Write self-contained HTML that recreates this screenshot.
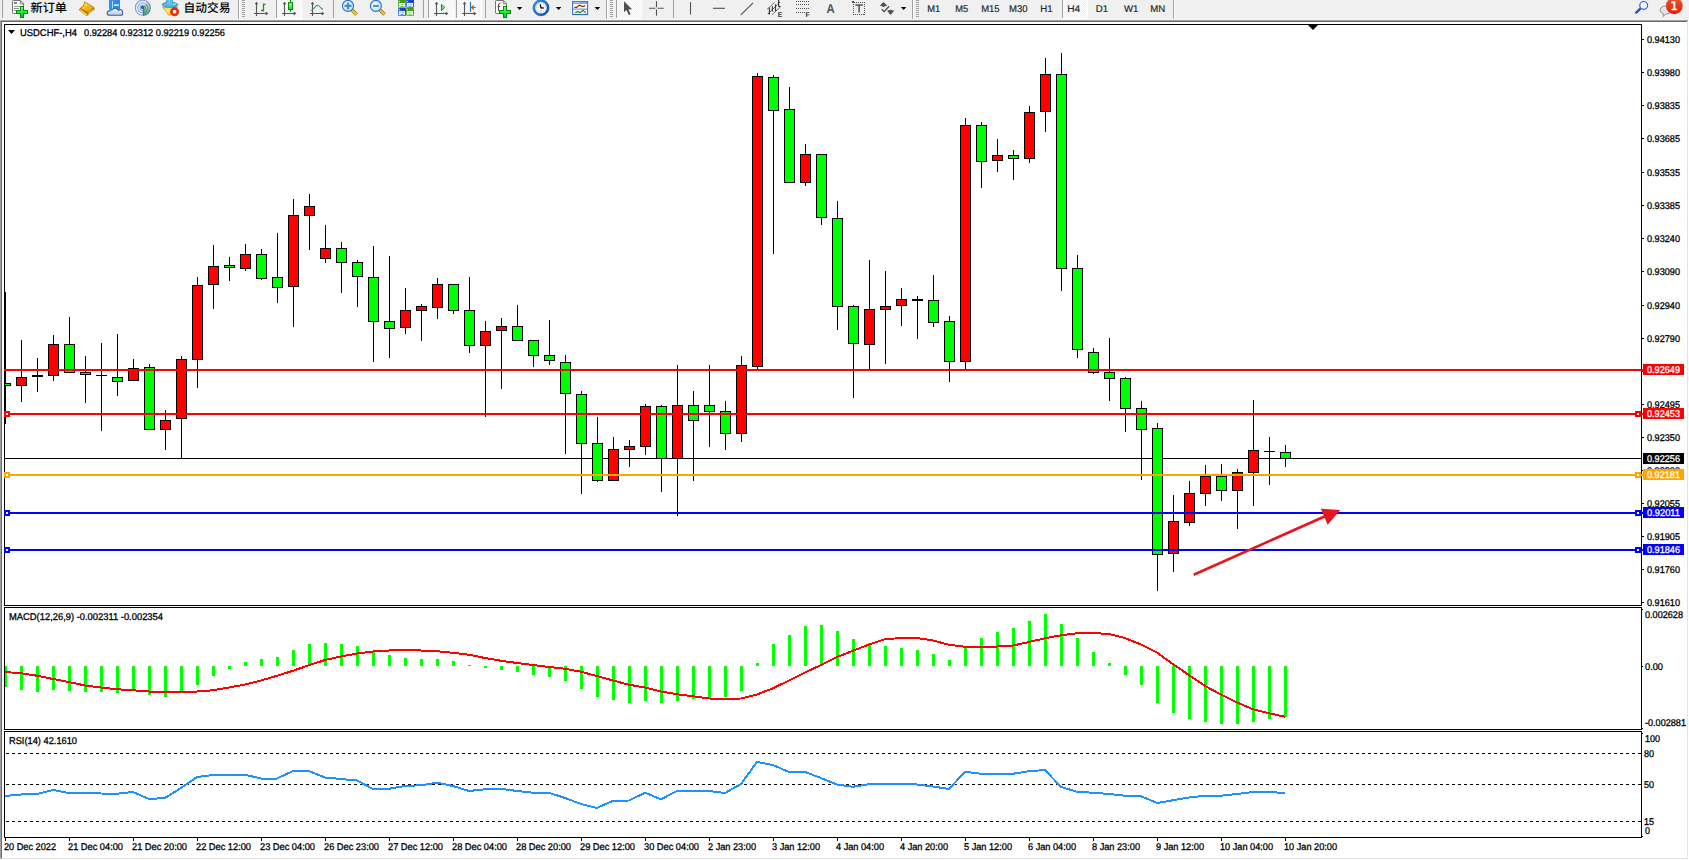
<!DOCTYPE html>
<html lang="zh-CN"><head><meta charset="utf-8"><title>USDCHF-,H4</title>
<style>
html,body{margin:0;padding:0;background:#f0f0f0;}
body{width:1689px;height:860px;position:relative;overflow:hidden;font-family:"Liberation Sans","Noto Sans CJK SC",sans-serif;}
svg{display:block}
</style></head><body>
<svg id="toolbar" width="1689" height="20" viewBox="0 0 1689 20" style="position:absolute;left:0;top:0;z-index:2;text-rendering:geometricPrecision" font-family="Liberation Sans, Noto Sans CJK SC, sans-serif">
<defs>
<linearGradient id="gPlus" x1="0" y1="0" x2="0" y2="1"><stop offset="0" stop-color="#6cff7c"/><stop offset="0.5" stop-color="#10f830"/><stop offset="1" stop-color="#08c418"/></linearGradient>
<linearGradient id="gGold" x1="0" y1="0" x2="0.6" y2="1"><stop offset="0" stop-color="#fff07a"/><stop offset="0.5" stop-color="#f0c020"/><stop offset="1" stop-color="#e0a010"/></linearGradient>
<linearGradient id="gCloud" x1="0" y1="0" x2="0" y2="1"><stop offset="0" stop-color="#ffffff"/><stop offset="1" stop-color="#b4c2dc"/></linearGradient>
<linearGradient id="gFace" x1="0" y1="0" x2="0" y2="1"><stop offset="0" stop-color="#f6d040"/><stop offset="0.5" stop-color="#fff27c"/><stop offset="1" stop-color="#f0bc20"/></linearGradient>
<linearGradient id="gSweep" gradientUnits="userSpaceOnUse" x1="146" y1="15" x2="148" y2="2"><stop offset="0" stop-color="#2c9a34" stop-opacity="0.85"/><stop offset="1" stop-color="#7ab880" stop-opacity="0.3"/></linearGradient>
<linearGradient id="gBlue" x1="0" y1="0" x2="0" y2="1"><stop offset="0" stop-color="#4aa8ff"/><stop offset="1" stop-color="#1050c8"/></linearGradient>
<linearGradient id="gGreen" x1="0" y1="0" x2="0" y2="1"><stop offset="0" stop-color="#3a9a12"/><stop offset="1" stop-color="#48aa1e"/></linearGradient>
<linearGradient id="gCandle" x1="0" y1="0" x2="0" y2="1"><stop offset="0" stop-color="#90ff98"/><stop offset="1" stop-color="#18d830"/></linearGradient>
<linearGradient id="gBadge" x1="0" y1="0" x2="0" y2="1"><stop offset="0" stop-color="#ea5a38"/><stop offset="1" stop-color="#dc1c00"/></linearGradient>
<linearGradient id="gSig" gradientUnits="userSpaceOnUse" x1="136" y1="1" x2="150" y2="15"><stop offset="0" stop-color="#2f62d8"/><stop offset="0.55" stop-color="#4a84d0"/><stop offset="1" stop-color="#3aa848"/></linearGradient>
<linearGradient id="gBlue2" x1="1" y1="0" x2="0" y2="1"><stop offset="0" stop-color="#0c36b4"/><stop offset="1" stop-color="#3470e0"/></linearGradient>
<linearGradient id="gRing" x1="0" y1="0" x2="1" y2="1"><stop offset="0" stop-color="#3a9cf4"/><stop offset="1" stop-color="#0c48a8"/></linearGradient>
<radialGradient id="gLens" cx="0.4" cy="0.35" r="0.7"><stop offset="0" stop-color="#f4fbff"/><stop offset="1" stop-color="#b8dcf4"/></radialGradient>
<g id="axes" fill="none" stroke="#555" stroke-width="1.1">
 <path d="M0.5 2.8 V16 M-2 13.5 H11"/>
 <path d="M-0.7 4.3 L0.5 2.6 L1.7 4.3 M9.7 12.3 L11.4 13.5 L9.7 14.7" stroke-width="1.1"/>
</g>
<pattern id="chk" width="2" height="2" patternUnits="userSpaceOnUse"><rect width="2" height="2" fill="#f0f0f0"/><rect width="1" height="1" fill="#fff"/><rect x="1" y="1" width="1" height="1" fill="#fff"/></pattern>
<path id="dd" d="M0 7 H5.6 L2.8 10 Z" fill="#000"/>
<g id="grip" fill="#a0a0a0"><rect x="0" y="0" width="3" height="1"/><rect x="0" y="2" width="3" height="1"/><rect x="0" y="4" width="3" height="1"/><rect x="0" y="6" width="3" height="1"/><rect x="0" y="8" width="3" height="1"/><rect x="0" y="10" width="3" height="1"/><rect x="0" y="12" width="3" height="1"/><rect x="0" y="14" width="3" height="1"/><rect x="0" y="16" width="3" height="1"/></g>
</defs>
<rect x="0" y="0" width="1689" height="20" fill="#f0f0f0"/>
<rect x="0" y="19" width="1689" height="1" fill="#f6f6f6"/>
<g shape-rendering="crispEdges">
<rect x="2" y="0" width="1" height="18" fill="#a0a0a0"/>
<!-- band separators -->
<rect x="238" y="0" width="1" height="19" fill="#a0a0a0"/><rect x="239" y="0" width="1" height="19" fill="#fff"/>
<rect x="606" y="0" width="1" height="19" fill="#a0a0a0"/><rect x="607" y="0" width="1" height="19" fill="#fff"/>
<rect x="912" y="0" width="1" height="19" fill="#a0a0a0"/><rect x="913" y="0" width="1" height="19" fill="#fff"/>
<rect x="1173" y="0" width="1" height="19" fill="#a0a0a0"/><rect x="1174" y="0" width="1" height="19" fill="#fff"/>
<use href="#grip" x="242" y="0"/><use href="#grip" x="610" y="0"/><use href="#grip" x="916" y="0"/>
<!-- small separators -->
<rect x="333" y="0" width="1" height="18" fill="#a0a0a0"/>
<rect x="423" y="0" width="1" height="18" fill="#a0a0a0"/>
<rect x="485" y="0" width="1" height="18" fill="#a0a0a0"/>
<rect x="673" y="0" width="1" height="18" fill="#a0a0a0"/>
<!-- pressed buttons -->
<g id="pb1"><rect x="276" y="0" width="1" height="18" fill="#a0a0a0"/><rect x="277" y="0" width="24" height="18" fill="url(#chk)"/><rect x="301" y="0" width="1" height="19" fill="#fff"/><rect x="276" y="18" width="26" height="1" fill="#fff"/></g>
<g><rect x="428" y="0" width="1" height="18" fill="#a0a0a0"/><rect x="429" y="0" width="24" height="18" fill="url(#chk)"/><rect x="453" y="0" width="1" height="19" fill="#fff"/><rect x="428" y="18" width="26" height="1" fill="#fff"/></g>
<g><rect x="456" y="0" width="1" height="18" fill="#a0a0a0"/><rect x="457" y="0" width="24" height="18" fill="url(#chk)"/><rect x="481" y="0" width="1" height="19" fill="#fff"/><rect x="456" y="18" width="26" height="1" fill="#fff"/></g>
<g><rect x="616" y="0" width="1" height="18" fill="#a0a0a0"/><rect x="617" y="0" width="24" height="18" fill="url(#chk)"/><rect x="641" y="0" width="1" height="19" fill="#fff"/><rect x="616" y="18" width="26" height="1" fill="#fff"/></g>
<g><rect x="1062" y="0" width="1" height="18" fill="#a0a0a0"/><rect x="1063" y="0" width="24" height="18" fill="url(#chk)"/><rect x="1087" y="0" width="1" height="19" fill="#fff"/><rect x="1062" y="18" width="26" height="1" fill="#fff"/></g>
</g>
<!-- new order -->
<g>
<path d="M13.2 0.5 H20.3 L23.5 3.8 V12.8 Q23.5 13.5 22.8 13.5 H13.2 Q12.5 13.5 12.5 12.8 V1.2 Q12.5 0.5 13.2 0.5 Z" fill="#fff" stroke="#767676" stroke-width="1"/>
<path d="M20.3 0.5 V3.8 H23.5 Z" fill="#fff" stroke="#707070" stroke-width="0.9"/>
<rect x="14" y="2.1" width="3" height="1.7" fill="#707070"/>
<path d="M14 6.4 H20 M14 8.5 H19 M14 10.5 H16" stroke="#808080" stroke-width="0.9"/>
<path id="plus" d="M20 6 H24 V10 H28 V14 H24 V18 H20 V14 H16 V10 H20 Z" fill="#078a07"/>
<path id="plusi" d="M21 7 H23 V11 H27 V13 H23 V17 H21 V13 H17 V11 H21 Z" fill="url(#gPlus)"/>
</g>
<text x="30.5" y="11.6" font-size="12" font-weight="500" fill="#000" textLength="36.5" lengthAdjust="spacingAndGlyphs">新订单</text>
<!-- book -->
<g>
<path d="M84.5 1.2 L93.9 7 L95 9.5 L87.6 15.5 Q86.8 16 85.9 15.4 L79.2 10.2 Q78.7 9.6 79.3 8.9 L83.3 5.1 Z" fill="#b47410"/>
<path d="M84.9 2.3 L93.2 7.3 L89.2 12.6 L80.9 8.6 L83.8 5.4 Z" fill="url(#gGold)"/>
<path d="M80 9.9 L87 14.9" stroke="#f2cc58" stroke-width="1.3" fill="none"/>
<path d="M88.6 14 L94.3 9.4" stroke="#e6dca4" stroke-width="1.1" fill="none"/>
</g>
<!-- server/cloud -->
<g>
<path d="M109 -1 H120 V9.4 H109 Z" fill="#1c8ef8"/>
<path d="M109 -1 H112.4 V9.4 H109 Z" fill="#0aa0ff"/>
<path d="M109 -1 H120 V0.8 H109 Z" fill="#6a7ad0"/>
<path d="M112.6 1 V9" stroke="#e8f6ff" stroke-width="0.8"/>
<rect x="114" y="4.4" width="4.8" height="1.5" fill="#f0f8ff"/>
<path d="M109.4 15.3 Q107.2 15.3 107.2 13.2 Q107.2 11 109.6 10.9 Q110.4 9.4 112 10 Q113 8.2 115.4 8.4 Q117.6 8.6 118.4 10.4 Q119.6 9.2 121.2 9.8 Q123 10.8 122.6 12.6 Q123.2 15.3 120.6 15.3 Z" fill="url(#gCloud)" stroke="#3f5fa0" stroke-width="1.1"/>
</g>
<!-- signal -->
<g fill="none">
<path d="M143 7.8 L143 15.6 A7.8 7.8 0 0 0 147.6 1.5 Z" fill="url(#gSweep)"/>
<circle cx="142.8" cy="7.8" r="7.5" stroke="#3a68d4" stroke-width="1.1" opacity="0.6"/>
<circle cx="142.8" cy="7.8" r="5" stroke="#3a68d4" stroke-width="1.1" opacity="0.55"/>
<circle cx="142.8" cy="7.8" r="2.7" stroke="#3a68d4" stroke-width="1.1" opacity="0.5"/>
<circle cx="142.6" cy="7.4" r="1.7" fill="#2254d0"/>
<path d="M143.4 7.9 V15.7" stroke="#1ea02c" stroke-width="1.3"/>
</g>
<!-- expert -->
<g>
<path d="M162.6 7.4 L169 15.4 Q169.8 16 170.6 15.2 L177.6 6.9 Z" fill="url(#gFace)" stroke="#d09c14" stroke-width="0.8"/>
<path d="M166.2 3.2 Q166.6 -2 169.4 -2 Q172.4 -2 172.8 3.2 Z" fill="#5cb6ea" stroke="#1c84b4" stroke-width="0.8"/>
<ellipse cx="170" cy="4.7" rx="7.8" ry="2.5" fill="#5cb6ea" stroke="#1c84b4" stroke-width="0.8"/>
<path d="M166.6 3.6 Q169.6 5 172.6 3.4 Q172 -1 169.4 -1 Q167 -1 166.6 3.6 Z" fill="#6cc0f0"/>
<path d="M173 4.6 Q175 4.2 176.2 3.4" fill="none" stroke="#b0e0ff" stroke-width="0.9"/>
<circle cx="174.6" cy="11.7" r="4.15" fill="#e82c10" stroke="#c01c00" stroke-width="0.6"/>
<rect x="173" y="10" width="3.2" height="3.3" fill="#fff"/>
</g>
<text x="183.5" y="11.6" font-size="12" font-weight="500" fill="#000" textLength="47" lengthAdjust="spacingAndGlyphs">自动交易</text>
<!-- bar chart -->
<use href="#axes" x="256" y="0"/>
<path d="M263.5 3.4 V11.6 M263.5 4.3 H265.6 M261 10.5 H263.5" fill="none" stroke="#1c9a1c" stroke-width="1.3"/>
<!-- candle chart -->
<use href="#axes" x="284" y="0"/>
<path d="M290.5 0 V11.8" stroke="#0a8a0a" stroke-width="1.1"/>
<rect x="288.5" y="2.6" width="4" height="6.9" fill="url(#gCandle)" stroke="#0a8a0a" stroke-width="1"/>
<!-- line chart -->
<use href="#axes" x="312" y="0"/>
<path d="M311 10.6 Q313.6 9.4 315 7 Q316.6 4.6 318 5.4 Q319.6 6.4 321 8 Q322 9 323 9.2" fill="none" stroke="#3a9a3a" stroke-width="1.1"/>
<!-- zoom in -->
<g>
<path d="M351.8 9.8 L356.6 14.5" stroke="#a87410" stroke-width="3.4" stroke-linecap="butt"/>
<path d="M352 10 L356.4 14.3" stroke="#f4d83c" stroke-width="1.7" stroke-linecap="butt"/>
<circle cx="348" cy="5.9" r="5.5" fill="url(#gLens)" stroke="#2c74c4" stroke-width="1.1"/>
<path d="M344.5 5.9 H351.5 M348 2.6 V9.2" stroke="#4a8eb8" stroke-width="2.2"/>
</g>
<!-- zoom out -->
<g>
<path d="M379.7 9.8 L384.5 14.5" stroke="#a87410" stroke-width="3.4" stroke-linecap="butt"/>
<path d="M379.9 10 L384.3 14.3" stroke="#f4d83c" stroke-width="1.7" stroke-linecap="butt"/>
<circle cx="375.9" cy="5.9" r="5.5" fill="url(#gLens)" stroke="#2c74c4" stroke-width="1.1"/>
<path d="M373 5.9 H378.9" stroke="#4a8eb8" stroke-width="1.9"/>
</g>
<!-- tile windows -->
<g>
<rect x="398.2" y="-1" width="7.7" height="8.7" rx="0.6" fill="url(#gGreen)"/>
<rect x="406.2" y="-1" width="7.7" height="8.7" rx="0.6" fill="url(#gBlue2)"/>
<rect x="398.2" y="8.1" width="7.7" height="7.7" rx="0.6" fill="url(#gBlue2)"/>
<rect x="406.2" y="8.1" width="7.7" height="7.7" rx="0.6" fill="url(#gGreen)"/>
<g fill="#fff">
<rect x="399.1" y="3" width="5.8" height="3.9"/><rect x="407.1" y="3" width="5.8" height="3.9"/>
<rect x="399.1" y="11.1" width="5.8" height="3.9"/><rect x="407.1" y="11.1" width="5.8" height="3.9"/>
<rect x="399.1" y="1.1" width="0.9" height="0.9"/><rect x="407.1" y="1.1" width="0.9" height="0.9"/>
<rect x="399.1" y="9.2" width="0.9" height="0.9"/><rect x="407.1" y="9.2" width="0.9" height="0.9"/>
</g>
<path d="M400.2 4.6 H403.8 M408.2 12.7 H411.8" stroke="#8cd070" stroke-width="0.9"/>
<path d="M408.2 4.6 H409.2 M410 4.6 H411.8 M400.2 12.7 H401.2 M402 12.7 H403.8" stroke="#6a98ec" stroke-width="0.9"/>
<rect x="400.5" y="6.2" width="3" height="0.7" fill="#46a61c"/><rect x="408.5" y="14.3" width="3" height="0.7" fill="#46a61c"/>
<rect x="408.5" y="6.2" width="3" height="0.7" fill="#2c5cd4"/><rect x="400.5" y="14.3" width="3" height="0.7" fill="#2c5cd4"/>
</g>
<!-- chart shift -->
<use href="#axes" x="436" y="0"/>
<path d="M441.4 4.4 L444.8 7.5 L441.4 10.6 Z" fill="#6cf07c" stroke="#0c920c" stroke-width="1"/>
<!-- autoscroll -->
<use href="#axes" x="464" y="0"/>
<path d="M470.5 2 V12" stroke="#1a78b0" stroke-width="1.2"/>
<path d="M471.4 7.5 H475.8 M473.8 5.4 L471.6 7.5 L473.8 9.6" fill="none" stroke="#e04808" stroke-width="1.2"/>
<!-- indicators -->
<g>
<path d="M496.2 0.5 H503.3 L506.5 3.8 V12.8 Q506.5 13.5 505.8 13.5 H496.2 Q495.5 13.5 495.5 12.8 V1.2 Q495.5 0.5 496.2 0.5 Z" fill="#fff" stroke="#767676" stroke-width="1"/>
<path d="M503.3 0.5 V3.8 H506.5 Z" fill="#fff" stroke="#707070" stroke-width="0.9"/>
<path d="M500.6 3.2 Q498.6 3 498.5 5 V10.9 M497.6 6.4 H500.4" fill="none" stroke="#4a4630" stroke-width="1"/>
<use href="#plus" x="483"/><use href="#plusi" x="483"/>
</g>
<use href="#dd" x="516.8" y="0"/>
<!-- clock -->
<g>
<circle cx="541" cy="7.8" r="7" fill="#f6f6f6" stroke="url(#gRing)" stroke-width="2.4"/>
<circle cx="541" cy="7.8" r="8.1" fill="none" stroke="#0c4aa0" stroke-width="0.4"/>
<g fill="#8a8a8a"><circle cx="545.70" cy="7.80" r="0.45"/><circle cx="545.07" cy="10.15" r="0.45"/><circle cx="543.35" cy="11.87" r="0.45"/><circle cx="541.00" cy="12.50" r="0.45"/><circle cx="538.65" cy="11.87" r="0.45"/><circle cx="536.93" cy="10.15" r="0.45"/><circle cx="536.30" cy="7.80" r="0.45"/><circle cx="536.93" cy="5.45" r="0.45"/><circle cx="538.65" cy="3.73" r="0.45"/><circle cx="541.00" cy="3.10" r="0.45"/><circle cx="543.35" cy="3.73" r="0.45"/><circle cx="545.07" cy="5.45" r="0.45"/></g>
<path d="M540.2 4.3 L541 7.9 L543.8 8" fill="none" stroke="#111" stroke-width="1.3"/>
<path d="M540.4 10.8 H541.8" stroke="#4a90f0" stroke-width="0.8"/>
</g>
<use href="#dd" x="555.8" y="0"/>
<!-- template -->
<g>
<rect x="572.6" y="1.6" width="15" height="13" fill="#fff" stroke="#3c78c4" stroke-width="1.1"/>
<rect x="573.1" y="2.1" width="14" height="1.8" fill="#6aa4e6"/>
<path d="M573.4 2.6 H580" stroke="#c0dcfa" stroke-width="0.6"/>
<path d="M573 9.1 H587.2" stroke="#3c78c4" stroke-width="0.9"/>
<path d="M573 14.3 H587.2" stroke="#2c64b4" stroke-width="0.8"/>
<path d="M574.3 7.3 H576.7 L577.9 6.2 L579.5 5.2 L581.7 6.4 H583.6 L585.2 5.5" fill="none" stroke="#a42408" stroke-width="1.2"/>
<path d="M575.3 12.6 L577.9 11.4 L580 12.6 L583.1 10.2 L585.7 12.6" fill="none" stroke="#168a1c" stroke-width="1.2"/>
</g>
<use href="#dd" x="594.6" y="0"/>
<!-- cursor -->
<path d="M624 1.2 V12.2 L626.4 10 L628.8 15 L630.6 14.2 L628.4 9.4 L632 9.2 Z" fill="#505050"/>
<!-- crosshair -->
<path d="M656.5 1.2 V7.2 M656.5 9.4 V15.8 M649 8.3 H655.4 M657.6 8.3 H663.8" stroke="#505050" stroke-width="1.1"/>
<!-- vline, hline, trend -->
<path d="M690.5 2.2 V14.6" stroke="#505050" stroke-width="1.1"/>
<path d="M713 8.3 H725" stroke="#505050" stroke-width="1.1"/>
<path d="M740.8 14.8 L753 2.9" stroke="#505050" stroke-width="1.1"/>
<!-- channel -->
<g fill="none" stroke="#555">
<path d="M767 9.5 L774.7 2.2 M772 14.7 L781 6.3" stroke-width="0.8"/>
<path d="M769.4 7.4 V14.6 M772.4 6.3 V11.6 M775.5 4.2 V11.4 M778.6 -1 V6.7" stroke="#3c3c3c" stroke-width="1.2"/>
<path d="M767.8 13.5 H769.4 M769.4 11.4 H770.8 M771.2 10.2 H772.4 M772.4 8.5 H773.8 M774.2 7.4 H775.5 M775.5 5.5 H776.8 M775.5 10.5 H776.6 M777.4 4.3 H778.6 M778.6 2.3 H780 M778.6 6.5 H780.4" stroke="#3c3c3c" stroke-width="1"/>
</g>
<text x="777.7" y="16.9" font-size="6.8" font-weight="bold" fill="#383838">E</text>
<!-- fibo -->
<g stroke="#505050" stroke-width="1" stroke-dasharray="1 1" shape-rendering="crispEdges">
<path d="M796 1.5 H809 M796 4.5 H809 M796 8.5 H809 M796 12.5 H805"/>
</g>
<text x="805.6" y="16.9" font-size="6.8" font-weight="bold" fill="#383838">F</text>
<!-- A -->
<text x="826.5" y="13" font-size="12.8" font-weight="bold" fill="#555" textLength="8.2" lengthAdjust="spacingAndGlyphs">A</text>
<!-- text label -->
<g>
<rect x="853.5" y="2.5" width="11" height="12" fill="none" stroke="#505050" stroke-width="1" stroke-dasharray="1 1" shape-rendering="crispEdges"/>
<rect x="852" y="1" width="2" height="2" fill="#505050"/>
<path d="M855.4 5 H862.8 M859.1 5 V12.6" stroke="#505050" stroke-width="1.5"/>
</g>
<!-- arrows -->
<g fill="#505050">
<path d="M883.4 2 L887.1 5.5 L883.4 7 L880 5.5 Z"/>
<path d="M890.5 15.1 L887.1 10.8 L890.5 9.7 L894.2 10.8 Z"/>
<path d="M881.8 9.4 L884.3 11.6 L889 6.2" fill="none" stroke="#505050" stroke-width="1.4"/>
</g>
<use href="#dd" x="900.8" y="0"/>
<!-- timeframes -->
<g font-size="9.8" fill="#2a2a2a" stroke="#2a2a2a" stroke-width="0.2">
<text x="927.2" y="12" textLength="13" lengthAdjust="spacingAndGlyphs">M1</text>
<text x="955.2" y="12" textLength="13" lengthAdjust="spacingAndGlyphs">M5</text>
<text x="981.2" y="12" textLength="18.4" lengthAdjust="spacingAndGlyphs">M15</text>
<text x="1009" y="12" textLength="18.6" lengthAdjust="spacingAndGlyphs">M30</text>
<text x="1040.2" y="12" textLength="12.4" lengthAdjust="spacingAndGlyphs">H1</text>
<text x="1067.2" y="12" textLength="13" lengthAdjust="spacingAndGlyphs">H4</text>
<text x="1095.8" y="12" textLength="12.4" lengthAdjust="spacingAndGlyphs">D1</text>
<text x="1124" y="12" textLength="14.4" lengthAdjust="spacingAndGlyphs">W1</text>
<text x="1150.2" y="12" textLength="15" lengthAdjust="spacingAndGlyphs">MN</text>
</g>
<!-- search -->
<g>
<path d="M1640.4 8.6 L1636.2 12.6" stroke="#1a54cc" stroke-width="2.4" stroke-linecap="round"/>
<circle cx="1643.7" cy="5.4" r="3.9" fill="#f2f2fc" stroke="#2460d8" stroke-width="1.2"/>
</g>
<!-- chat -->
<g>
<path d="M1663 16.6 L1663.4 13.8 Q1659.6 12.6 1660.2 9.6 Q1661 6 1666 6 Q1671.4 6.2 1671.6 10 Q1671.4 13.6 1666 14 Z" fill="#e2e2ee" stroke="#8a8a90" stroke-width="0.9"/>
<circle cx="1674.3" cy="5.8" r="8.4" fill="url(#gBadge)"/>
<text x="1674.1" y="9.9" font-size="11.5" font-family="DejaVu Sans, sans-serif" fill="#fff" stroke="#fff" stroke-width="0.5" text-anchor="middle">1</text>
</g>
</svg>

<svg id="chart" width="1689" height="860" viewBox="0 0 1689 860" shape-rendering="crispEdges" font-family="Liberation Sans, sans-serif" style="position:absolute;left:0;top:0;text-rendering:geometricPrecision">
<rect x="0" y="20" width="1689" height="840" fill="#fff"/>
<rect x="0" y="20" width="1688" height="1" fill="#a0a0a0"/>
<rect x="0" y="20" width="1" height="839" fill="#a0a0a0"/>
<rect x="1" y="21" width="1686" height="1" fill="#696969"/>
<rect x="1" y="21" width="1" height="837" fill="#696969"/>
<rect x="1687" y="21" width="1" height="838" fill="#e3e3e3"/>
<rect x="1" y="858" width="1687" height="1" fill="#e3e3e3"/>
<rect x="1688" y="20" width="1" height="840" fill="#fff"/>
<rect x="0" y="859" width="1689" height="1" fill="#fff"/>
<rect x="4" y="24" width="1638" height="1" fill="#000"/>
<rect x="4" y="24" width="1" height="814" fill="#000"/>
<rect x="1641" y="24" width="1" height="814" fill="#000"/>
<rect x="4" y="605" width="1638" height="1" fill="#000"/>
<rect x="4" y="607" width="1638" height="1" fill="#000"/>
<rect x="4" y="729" width="1638" height="1" fill="#000"/>
<rect x="4" y="731" width="1638" height="1" fill="#000"/>
<rect x="4" y="837" width="1638" height="1" fill="#000"/>
<rect x="4" y="606" width="1638" height="1" fill="#fff"/>
<rect x="4" y="730" width="1638" height="1" fill="#fff"/>
<path d="M1308 25 L1318 25 L1313 30 Z" fill="#000" shape-rendering="geometricPrecision"/>
<rect x="5" y="458" width="1636" height="1" fill="#000"/>
<clipPath id="cm"><rect x="5" y="25" width="1636" height="580"/></clipPath>
<g clip-path="url(#cm)">
<rect x="5" y="292" width="1" height="132" fill="#000"/>
<rect x="0" y="383" width="11" height="3" fill="#000"/>
<rect x="1" y="384" width="9" height="1" fill="#0f0"/>
<rect x="21" y="340" width="1" height="62" fill="#000"/>
<rect x="16" y="377" width="11" height="9" fill="#000"/>
<rect x="17" y="378" width="9" height="7" fill="#f00"/>
<rect x="37" y="358" width="1" height="34" fill="#000"/>
<rect x="32" y="375" width="11" height="2" fill="#000"/>
<rect x="53" y="335" width="1" height="46" fill="#000"/>
<rect x="48" y="344" width="11" height="32" fill="#000"/>
<rect x="49" y="345" width="9" height="30" fill="#f00"/>
<rect x="69" y="317" width="1" height="56" fill="#000"/>
<rect x="64" y="344" width="11" height="29" fill="#000"/>
<rect x="65" y="345" width="9" height="27" fill="#0f0"/>
<rect x="85" y="356" width="1" height="47" fill="#000"/>
<rect x="80" y="372" width="11" height="3" fill="#000"/>
<rect x="81" y="373" width="9" height="1" fill="#0f0"/>
<rect x="101" y="343" width="1" height="88" fill="#000"/>
<rect x="96" y="375" width="11" height="1" fill="#000"/>
<rect x="117" y="334" width="1" height="62" fill="#000"/>
<rect x="112" y="377" width="11" height="5" fill="#000"/>
<rect x="113" y="378" width="9" height="3" fill="#0f0"/>
<rect x="133" y="359" width="1" height="22" fill="#000"/>
<rect x="128" y="368" width="11" height="13" fill="#000"/>
<rect x="129" y="369" width="9" height="11" fill="#f00"/>
<rect x="149" y="364" width="1" height="66" fill="#000"/>
<rect x="144" y="367" width="11" height="63" fill="#000"/>
<rect x="145" y="368" width="9" height="61" fill="#0f0"/>
<rect x="165" y="410" width="1" height="40" fill="#000"/>
<rect x="160" y="420" width="11" height="10" fill="#000"/>
<rect x="161" y="421" width="9" height="8" fill="#f00"/>
<rect x="181" y="356" width="1" height="103" fill="#000"/>
<rect x="176" y="359" width="11" height="60" fill="#000"/>
<rect x="177" y="360" width="9" height="58" fill="#f00"/>
<rect x="197" y="277" width="1" height="111" fill="#000"/>
<rect x="192" y="285" width="11" height="75" fill="#000"/>
<rect x="193" y="286" width="9" height="73" fill="#f00"/>
<rect x="213" y="245" width="1" height="64" fill="#000"/>
<rect x="208" y="266" width="11" height="19" fill="#000"/>
<rect x="209" y="267" width="9" height="17" fill="#f00"/>
<rect x="229" y="257" width="1" height="24" fill="#000"/>
<rect x="224" y="265" width="11" height="3" fill="#000"/>
<rect x="225" y="266" width="9" height="1" fill="#0f0"/>
<rect x="245" y="244" width="1" height="27" fill="#000"/>
<rect x="240" y="254" width="11" height="15" fill="#000"/>
<rect x="241" y="255" width="9" height="13" fill="#f00"/>
<rect x="261" y="249" width="1" height="31" fill="#000"/>
<rect x="256" y="254" width="11" height="25" fill="#000"/>
<rect x="257" y="255" width="9" height="23" fill="#0f0"/>
<rect x="277" y="233" width="1" height="70" fill="#000"/>
<rect x="272" y="277" width="11" height="11" fill="#000"/>
<rect x="273" y="278" width="9" height="9" fill="#0f0"/>
<rect x="293" y="199" width="1" height="128" fill="#000"/>
<rect x="288" y="215" width="11" height="72" fill="#000"/>
<rect x="289" y="216" width="9" height="70" fill="#f00"/>
<rect x="309" y="194" width="1" height="56" fill="#000"/>
<rect x="304" y="206" width="11" height="10" fill="#000"/>
<rect x="305" y="207" width="9" height="8" fill="#f00"/>
<rect x="325" y="225" width="1" height="38" fill="#000"/>
<rect x="320" y="248" width="11" height="11" fill="#000"/>
<rect x="321" y="249" width="9" height="9" fill="#f00"/>
<rect x="341" y="242" width="1" height="51" fill="#000"/>
<rect x="336" y="248" width="11" height="15" fill="#000"/>
<rect x="337" y="249" width="9" height="13" fill="#0f0"/>
<rect x="357" y="260" width="1" height="47" fill="#000"/>
<rect x="352" y="262" width="11" height="15" fill="#000"/>
<rect x="353" y="263" width="9" height="13" fill="#0f0"/>
<rect x="373" y="246" width="1" height="116" fill="#000"/>
<rect x="368" y="277" width="11" height="45" fill="#000"/>
<rect x="369" y="278" width="9" height="43" fill="#0f0"/>
<rect x="389" y="256" width="1" height="102" fill="#000"/>
<rect x="384" y="321" width="11" height="8" fill="#000"/>
<rect x="385" y="322" width="9" height="6" fill="#0f0"/>
<rect x="405" y="288" width="1" height="46" fill="#000"/>
<rect x="400" y="310" width="11" height="18" fill="#000"/>
<rect x="401" y="311" width="9" height="16" fill="#f00"/>
<rect x="421" y="304" width="1" height="37" fill="#000"/>
<rect x="416" y="306" width="11" height="5" fill="#000"/>
<rect x="417" y="307" width="9" height="3" fill="#f00"/>
<rect x="437" y="278" width="1" height="41" fill="#000"/>
<rect x="432" y="284" width="11" height="24" fill="#000"/>
<rect x="433" y="285" width="9" height="22" fill="#f00"/>
<rect x="453" y="284" width="1" height="30" fill="#000"/>
<rect x="448" y="284" width="11" height="27" fill="#000"/>
<rect x="449" y="285" width="9" height="25" fill="#0f0"/>
<rect x="469" y="277" width="1" height="76" fill="#000"/>
<rect x="464" y="310" width="11" height="36" fill="#000"/>
<rect x="465" y="311" width="9" height="34" fill="#0f0"/>
<rect x="485" y="321" width="1" height="96" fill="#000"/>
<rect x="480" y="331" width="11" height="15" fill="#000"/>
<rect x="481" y="332" width="9" height="13" fill="#f00"/>
<rect x="501" y="318" width="1" height="71" fill="#000"/>
<rect x="496" y="326" width="11" height="5" fill="#000"/>
<rect x="497" y="327" width="9" height="3" fill="#f00"/>
<rect x="517" y="305" width="1" height="36" fill="#000"/>
<rect x="512" y="326" width="11" height="15" fill="#000"/>
<rect x="513" y="327" width="9" height="13" fill="#0f0"/>
<rect x="533" y="340" width="1" height="27" fill="#000"/>
<rect x="528" y="340" width="11" height="16" fill="#000"/>
<rect x="529" y="341" width="9" height="14" fill="#0f0"/>
<rect x="549" y="320" width="1" height="45" fill="#000"/>
<rect x="544" y="355" width="11" height="6" fill="#000"/>
<rect x="545" y="356" width="9" height="4" fill="#0f0"/>
<rect x="565" y="355" width="1" height="99" fill="#000"/>
<rect x="560" y="362" width="11" height="32" fill="#000"/>
<rect x="561" y="363" width="9" height="30" fill="#0f0"/>
<rect x="581" y="391" width="1" height="103" fill="#000"/>
<rect x="576" y="394" width="11" height="50" fill="#000"/>
<rect x="577" y="395" width="9" height="48" fill="#0f0"/>
<rect x="597" y="417" width="1" height="65" fill="#000"/>
<rect x="592" y="443" width="11" height="38" fill="#000"/>
<rect x="593" y="444" width="9" height="36" fill="#0f0"/>
<rect x="613" y="437" width="1" height="44" fill="#000"/>
<rect x="608" y="449" width="11" height="32" fill="#000"/>
<rect x="609" y="450" width="9" height="30" fill="#f00"/>
<rect x="629" y="440" width="1" height="27" fill="#000"/>
<rect x="624" y="446" width="11" height="4" fill="#000"/>
<rect x="625" y="447" width="9" height="2" fill="#f00"/>
<rect x="645" y="404" width="1" height="51" fill="#000"/>
<rect x="640" y="406" width="11" height="41" fill="#000"/>
<rect x="641" y="407" width="9" height="39" fill="#f00"/>
<rect x="661" y="405" width="1" height="87" fill="#000"/>
<rect x="656" y="406" width="11" height="53" fill="#000"/>
<rect x="657" y="407" width="9" height="51" fill="#0f0"/>
<rect x="677" y="365" width="1" height="151" fill="#000"/>
<rect x="672" y="405" width="11" height="54" fill="#000"/>
<rect x="673" y="406" width="9" height="52" fill="#f00"/>
<rect x="693" y="391" width="1" height="90" fill="#000"/>
<rect x="688" y="405" width="11" height="16" fill="#000"/>
<rect x="689" y="406" width="9" height="14" fill="#0f0"/>
<rect x="709" y="365" width="1" height="82" fill="#000"/>
<rect x="704" y="405" width="11" height="7" fill="#000"/>
<rect x="705" y="406" width="9" height="5" fill="#0f0"/>
<rect x="725" y="401" width="1" height="49" fill="#000"/>
<rect x="720" y="411" width="11" height="23" fill="#000"/>
<rect x="721" y="412" width="9" height="21" fill="#0f0"/>
<rect x="741" y="356" width="1" height="86" fill="#000"/>
<rect x="736" y="365" width="11" height="69" fill="#000"/>
<rect x="737" y="366" width="9" height="67" fill="#f00"/>
<rect x="757" y="73" width="1" height="296" fill="#000"/>
<rect x="752" y="76" width="11" height="291" fill="#000"/>
<rect x="753" y="77" width="9" height="289" fill="#f00"/>
<rect x="773" y="75" width="1" height="179" fill="#000"/>
<rect x="768" y="77" width="11" height="34" fill="#000"/>
<rect x="769" y="78" width="9" height="32" fill="#0f0"/>
<rect x="789" y="87" width="1" height="96" fill="#000"/>
<rect x="784" y="109" width="11" height="74" fill="#000"/>
<rect x="785" y="110" width="9" height="72" fill="#0f0"/>
<rect x="805" y="144" width="1" height="42" fill="#000"/>
<rect x="800" y="154" width="11" height="29" fill="#000"/>
<rect x="801" y="155" width="9" height="27" fill="#f00"/>
<rect x="821" y="154" width="1" height="71" fill="#000"/>
<rect x="816" y="154" width="11" height="64" fill="#000"/>
<rect x="817" y="155" width="9" height="62" fill="#0f0"/>
<rect x="837" y="201" width="1" height="129" fill="#000"/>
<rect x="832" y="218" width="11" height="89" fill="#000"/>
<rect x="833" y="219" width="9" height="87" fill="#0f0"/>
<rect x="853" y="305" width="1" height="93" fill="#000"/>
<rect x="848" y="306" width="11" height="38" fill="#000"/>
<rect x="849" y="307" width="9" height="36" fill="#0f0"/>
<rect x="869" y="260" width="1" height="109" fill="#000"/>
<rect x="864" y="309" width="11" height="36" fill="#000"/>
<rect x="865" y="310" width="9" height="34" fill="#f00"/>
<rect x="885" y="271" width="1" height="93" fill="#000"/>
<rect x="880" y="306" width="11" height="4" fill="#000"/>
<rect x="881" y="307" width="9" height="2" fill="#f00"/>
<rect x="901" y="288" width="1" height="38" fill="#000"/>
<rect x="896" y="299" width="11" height="7" fill="#000"/>
<rect x="897" y="300" width="9" height="5" fill="#f00"/>
<rect x="917" y="296" width="1" height="43" fill="#000"/>
<rect x="912" y="299" width="11" height="2" fill="#000"/>
<rect x="933" y="275" width="1" height="52" fill="#000"/>
<rect x="928" y="300" width="11" height="23" fill="#000"/>
<rect x="929" y="301" width="9" height="21" fill="#0f0"/>
<rect x="949" y="316" width="1" height="66" fill="#000"/>
<rect x="944" y="321" width="11" height="41" fill="#000"/>
<rect x="945" y="322" width="9" height="39" fill="#0f0"/>
<rect x="965" y="118" width="1" height="251" fill="#000"/>
<rect x="960" y="125" width="11" height="237" fill="#000"/>
<rect x="961" y="126" width="9" height="235" fill="#f00"/>
<rect x="981" y="122" width="1" height="66" fill="#000"/>
<rect x="976" y="125" width="11" height="37" fill="#000"/>
<rect x="977" y="126" width="9" height="35" fill="#0f0"/>
<rect x="997" y="139" width="1" height="33" fill="#000"/>
<rect x="992" y="155" width="11" height="6" fill="#000"/>
<rect x="993" y="156" width="9" height="4" fill="#f00"/>
<rect x="1013" y="150" width="1" height="30" fill="#000"/>
<rect x="1008" y="155" width="11" height="4" fill="#000"/>
<rect x="1009" y="156" width="9" height="2" fill="#0f0"/>
<rect x="1029" y="106" width="1" height="57" fill="#000"/>
<rect x="1024" y="112" width="11" height="47" fill="#000"/>
<rect x="1025" y="113" width="9" height="45" fill="#f00"/>
<rect x="1045" y="58" width="1" height="74" fill="#000"/>
<rect x="1040" y="74" width="11" height="38" fill="#000"/>
<rect x="1041" y="75" width="9" height="36" fill="#f00"/>
<rect x="1061" y="53" width="1" height="238" fill="#000"/>
<rect x="1056" y="74" width="11" height="195" fill="#000"/>
<rect x="1057" y="75" width="9" height="193" fill="#0f0"/>
<rect x="1077" y="255" width="1" height="103" fill="#000"/>
<rect x="1072" y="268" width="11" height="82" fill="#000"/>
<rect x="1073" y="269" width="9" height="80" fill="#0f0"/>
<rect x="1093" y="348" width="1" height="26" fill="#000"/>
<rect x="1088" y="352" width="11" height="21" fill="#000"/>
<rect x="1089" y="353" width="9" height="19" fill="#0f0"/>
<rect x="1109" y="338" width="1" height="63" fill="#000"/>
<rect x="1104" y="372" width="11" height="7" fill="#000"/>
<rect x="1105" y="373" width="9" height="5" fill="#0f0"/>
<rect x="1125" y="377" width="1" height="55" fill="#000"/>
<rect x="1120" y="378" width="11" height="31" fill="#000"/>
<rect x="1121" y="379" width="9" height="29" fill="#0f0"/>
<rect x="1141" y="401" width="1" height="79" fill="#000"/>
<rect x="1136" y="408" width="11" height="22" fill="#000"/>
<rect x="1137" y="409" width="9" height="20" fill="#0f0"/>
<rect x="1157" y="423" width="1" height="168" fill="#000"/>
<rect x="1152" y="428" width="11" height="127" fill="#000"/>
<rect x="1153" y="429" width="9" height="125" fill="#0f0"/>
<rect x="1173" y="495" width="1" height="77" fill="#000"/>
<rect x="1168" y="521" width="11" height="33" fill="#000"/>
<rect x="1169" y="522" width="9" height="31" fill="#f00"/>
<rect x="1189" y="481" width="1" height="45" fill="#000"/>
<rect x="1184" y="493" width="11" height="30" fill="#000"/>
<rect x="1185" y="494" width="9" height="28" fill="#f00"/>
<rect x="1205" y="465" width="1" height="41" fill="#000"/>
<rect x="1200" y="476" width="11" height="18" fill="#000"/>
<rect x="1201" y="477" width="9" height="16" fill="#f00"/>
<rect x="1221" y="464" width="1" height="37" fill="#000"/>
<rect x="1216" y="476" width="11" height="15" fill="#000"/>
<rect x="1217" y="477" width="9" height="13" fill="#0f0"/>
<rect x="1237" y="469" width="1" height="60" fill="#000"/>
<rect x="1232" y="472" width="11" height="19" fill="#000"/>
<rect x="1233" y="473" width="9" height="17" fill="#f00"/>
<rect x="1253" y="400" width="1" height="106" fill="#000"/>
<rect x="1248" y="450" width="11" height="23" fill="#000"/>
<rect x="1249" y="451" width="9" height="21" fill="#f00"/>
<rect x="1269" y="437" width="1" height="48" fill="#000"/>
<rect x="1264" y="451" width="11" height="1" fill="#000"/>
<rect x="1285" y="445" width="1" height="22" fill="#000"/>
<rect x="1280" y="452" width="11" height="7" fill="#000"/>
<rect x="1281" y="453" width="9" height="5" fill="#0f0"/>
</g>
<rect x="1642" y="39" width="2" height="1" fill="#000"/>
<text x="1647" y="43" font-size="9.8" fill="#000" stroke="#000" stroke-width="0.3" textLength="33" lengthAdjust="spacingAndGlyphs">0.94130</text>
<rect x="1642" y="72" width="2" height="1" fill="#000"/>
<text x="1647" y="76" font-size="9.8" fill="#000" stroke="#000" stroke-width="0.3" textLength="33" lengthAdjust="spacingAndGlyphs">0.93980</text>
<rect x="1642" y="105" width="2" height="1" fill="#000"/>
<text x="1647" y="109" font-size="9.8" fill="#000" stroke="#000" stroke-width="0.3" textLength="33" lengthAdjust="spacingAndGlyphs">0.93835</text>
<rect x="1642" y="138" width="2" height="1" fill="#000"/>
<text x="1647" y="142" font-size="9.8" fill="#000" stroke="#000" stroke-width="0.3" textLength="33" lengthAdjust="spacingAndGlyphs">0.93685</text>
<rect x="1642" y="172" width="2" height="1" fill="#000"/>
<text x="1647" y="176" font-size="9.8" fill="#000" stroke="#000" stroke-width="0.3" textLength="33" lengthAdjust="spacingAndGlyphs">0.93535</text>
<rect x="1642" y="205" width="2" height="1" fill="#000"/>
<text x="1647" y="209" font-size="9.8" fill="#000" stroke="#000" stroke-width="0.3" textLength="33" lengthAdjust="spacingAndGlyphs">0.93385</text>
<rect x="1642" y="238" width="2" height="1" fill="#000"/>
<text x="1647" y="242" font-size="9.8" fill="#000" stroke="#000" stroke-width="0.3" textLength="33" lengthAdjust="spacingAndGlyphs">0.93240</text>
<rect x="1642" y="271" width="2" height="1" fill="#000"/>
<text x="1647" y="275" font-size="9.8" fill="#000" stroke="#000" stroke-width="0.3" textLength="33" lengthAdjust="spacingAndGlyphs">0.93090</text>
<rect x="1642" y="305" width="2" height="1" fill="#000"/>
<text x="1647" y="309" font-size="9.8" fill="#000" stroke="#000" stroke-width="0.3" textLength="33" lengthAdjust="spacingAndGlyphs">0.92940</text>
<rect x="1642" y="338" width="2" height="1" fill="#000"/>
<text x="1647" y="342" font-size="9.8" fill="#000" stroke="#000" stroke-width="0.3" textLength="33" lengthAdjust="spacingAndGlyphs">0.92790</text>
<rect x="1642" y="371" width="2" height="1" fill="#000"/>
<rect x="1642" y="404" width="2" height="1" fill="#000"/>
<text x="1647" y="408" font-size="9.8" fill="#000" stroke="#000" stroke-width="0.3" textLength="33" lengthAdjust="spacingAndGlyphs">0.92495</text>
<rect x="1642" y="437" width="2" height="1" fill="#000"/>
<text x="1647" y="441" font-size="9.8" fill="#000" stroke="#000" stroke-width="0.3" textLength="33" lengthAdjust="spacingAndGlyphs">0.92350</text>
<rect x="1642" y="470" width="2" height="1" fill="#000"/>
<text x="1647" y="474" font-size="9.8" fill="#000" stroke="#000" stroke-width="0.3" textLength="33" lengthAdjust="spacingAndGlyphs">0.92200</text>
<rect x="1642" y="503" width="2" height="1" fill="#000"/>
<text x="1647" y="507" font-size="9.8" fill="#000" stroke="#000" stroke-width="0.3" textLength="33" lengthAdjust="spacingAndGlyphs">0.92055</text>
<rect x="1642" y="536" width="2" height="1" fill="#000"/>
<text x="1647" y="540" font-size="9.8" fill="#000" stroke="#000" stroke-width="0.3" textLength="33" lengthAdjust="spacingAndGlyphs">0.91905</text>
<rect x="1642" y="569" width="2" height="1" fill="#000"/>
<text x="1647" y="573" font-size="9.8" fill="#000" stroke="#000" stroke-width="0.3" textLength="33" lengthAdjust="spacingAndGlyphs">0.91760</text>
<rect x="1642" y="602" width="2" height="1" fill="#000"/>
<text x="1647" y="606" font-size="9.8" fill="#000" stroke="#000" stroke-width="0.3" textLength="33" lengthAdjust="spacingAndGlyphs">0.91610</text>
<rect x="1643" y="453" width="41" height="11" fill="#000"/>
<text x="1647" y="462" font-size="9.8" fill="#fff" stroke="#fff" stroke-width="0.3" textLength="33" lengthAdjust="spacingAndGlyphs">0.92256</text>
<rect x="4" y="369" width="1639" height="2" fill="#f00"/>
<rect x="1643" y="364" width="41" height="11" fill="#f00"/>
<text x="1647" y="373" font-size="9.8" fill="#fff" stroke="#fff" stroke-width="0.3" textLength="33" lengthAdjust="spacingAndGlyphs">0.92649</text>
<rect x="4" y="413" width="1639" height="2" fill="#f00"/>
<rect x="4" y="411" width="6" height="6" fill="#f00"/>
<rect x="6" y="413" width="2" height="2" fill="#fff"/>
<rect x="1635" y="411" width="6" height="6" fill="#f00"/>
<rect x="1637" y="413" width="2" height="2" fill="#fff"/>
<rect x="1643" y="408" width="41" height="11" fill="#f00"/>
<text x="1647" y="417" font-size="9.8" fill="#fff" stroke="#fff" stroke-width="0.3" textLength="33" lengthAdjust="spacingAndGlyphs">0.92453</text>
<rect x="4" y="474" width="1639" height="2" fill="#ffa500"/>
<rect x="4" y="472" width="6" height="6" fill="#ffa500"/>
<rect x="6" y="474" width="2" height="2" fill="#fff"/>
<rect x="1635" y="472" width="6" height="6" fill="#ffa500"/>
<rect x="1637" y="474" width="2" height="2" fill="#fff"/>
<rect x="1643" y="469" width="41" height="11" fill="#ffa500"/>
<text x="1647" y="478" font-size="9.8" fill="#fff" stroke="#fff" stroke-width="0.3" textLength="33" lengthAdjust="spacingAndGlyphs">0.92181</text>
<rect x="4" y="512" width="1639" height="2" fill="#00f"/>
<rect x="4" y="510" width="6" height="6" fill="#00f"/>
<rect x="6" y="512" width="2" height="2" fill="#fff"/>
<rect x="1635" y="510" width="6" height="6" fill="#00f"/>
<rect x="1637" y="512" width="2" height="2" fill="#fff"/>
<rect x="1643" y="507" width="41" height="11" fill="#00f"/>
<text x="1647" y="516" font-size="9.8" fill="#fff" stroke="#fff" stroke-width="0.3" textLength="33" lengthAdjust="spacingAndGlyphs">0.92011</text>
<rect x="4" y="549" width="1639" height="2" fill="#00f"/>
<rect x="4" y="547" width="6" height="6" fill="#00f"/>
<rect x="6" y="549" width="2" height="2" fill="#fff"/>
<rect x="1635" y="547" width="6" height="6" fill="#00f"/>
<rect x="1637" y="549" width="2" height="2" fill="#fff"/>
<rect x="1643" y="544" width="41" height="11" fill="#00f"/>
<text x="1647" y="553" font-size="9.8" fill="#fff" stroke="#fff" stroke-width="0.3" textLength="33" lengthAdjust="spacingAndGlyphs">0.91846</text>
<g shape-rendering="geometricPrecision"><line x1="1193.7" y1="574.7" x2="1325" y2="516.3" stroke="#e8141f" stroke-width="2.6"/><path d="M1320.9 508.7 L1340.4 510 L1327.6 524.7 Z" fill="#e8141f"/></g>
<path d="M8 30 L15 30 L11.5 34 Z" fill="#000" shape-rendering="geometricPrecision"/>
<text x="20" y="36" font-size="9.8" fill="#000" stroke="#000" stroke-width="0.3" textLength="57" lengthAdjust="spacingAndGlyphs">USDCHF-,H4</text>
<text x="84" y="36" font-size="9.8" fill="#000" stroke="#000" stroke-width="0.3" textLength="141" lengthAdjust="spacingAndGlyphs">0.92284 0.92312 0.92219 0.92256</text>
<rect x="5" y="666" width="2" height="21" fill="#0f0"/>
<rect x="20" y="666" width="3" height="24" fill="#0f0"/>
<rect x="36" y="666" width="3" height="26" fill="#0f0"/>
<rect x="52" y="666" width="3" height="24" fill="#0f0"/>
<rect x="68" y="666" width="3" height="25" fill="#0f0"/>
<rect x="84" y="666" width="3" height="26" fill="#0f0"/>
<rect x="100" y="666" width="3" height="26" fill="#0f0"/>
<rect x="116" y="666" width="3" height="27" fill="#0f0"/>
<rect x="132" y="666" width="3" height="25" fill="#0f0"/>
<rect x="148" y="666" width="3" height="29" fill="#0f0"/>
<rect x="164" y="666" width="3" height="31" fill="#0f0"/>
<rect x="180" y="666" width="3" height="25" fill="#0f0"/>
<rect x="196" y="666" width="3" height="19" fill="#0f0"/>
<rect x="212" y="666" width="3" height="10" fill="#0f0"/>
<rect x="228" y="666" width="3" height="3" fill="#0f0"/>
<rect x="244" y="662" width="3" height="4" fill="#0f0"/>
<rect x="260" y="659" width="3" height="7" fill="#0f0"/>
<rect x="276" y="657" width="3" height="9" fill="#0f0"/>
<rect x="292" y="650" width="3" height="16" fill="#0f0"/>
<rect x="308" y="644" width="3" height="22" fill="#0f0"/>
<rect x="324" y="643" width="3" height="23" fill="#0f0"/>
<rect x="340" y="644" width="3" height="22" fill="#0f0"/>
<rect x="356" y="646" width="3" height="20" fill="#0f0"/>
<rect x="372" y="651" width="3" height="15" fill="#0f0"/>
<rect x="388" y="655" width="3" height="11" fill="#0f0"/>
<rect x="404" y="658" width="3" height="8" fill="#0f0"/>
<rect x="420" y="659" width="3" height="7" fill="#0f0"/>
<rect x="436" y="659" width="3" height="7" fill="#0f0"/>
<rect x="452" y="661" width="3" height="5" fill="#0f0"/>
<rect x="468" y="665" width="3" height="1" fill="#0f0"/>
<rect x="484" y="666" width="3" height="2" fill="#0f0"/>
<rect x="500" y="666" width="3" height="4" fill="#0f0"/>
<rect x="516" y="666" width="3" height="6" fill="#0f0"/>
<rect x="532" y="666" width="3" height="9" fill="#0f0"/>
<rect x="548" y="666" width="3" height="11" fill="#0f0"/>
<rect x="564" y="666" width="3" height="15" fill="#0f0"/>
<rect x="580" y="666" width="3" height="23" fill="#0f0"/>
<rect x="596" y="666" width="3" height="31" fill="#0f0"/>
<rect x="612" y="666" width="3" height="34" fill="#0f0"/>
<rect x="628" y="666" width="3" height="37" fill="#0f0"/>
<rect x="644" y="666" width="3" height="35" fill="#0f0"/>
<rect x="660" y="666" width="3" height="37" fill="#0f0"/>
<rect x="676" y="666" width="3" height="35" fill="#0f0"/>
<rect x="692" y="666" width="3" height="33" fill="#0f0"/>
<rect x="708" y="666" width="3" height="32" fill="#0f0"/>
<rect x="724" y="666" width="3" height="31" fill="#0f0"/>
<rect x="740" y="666" width="3" height="25" fill="#0f0"/>
<rect x="756" y="663" width="3" height="3" fill="#0f0"/>
<rect x="772" y="644" width="3" height="22" fill="#0f0"/>
<rect x="788" y="635" width="3" height="31" fill="#0f0"/>
<rect x="804" y="626" width="3" height="40" fill="#0f0"/>
<rect x="820" y="625" width="3" height="41" fill="#0f0"/>
<rect x="836" y="631" width="3" height="35" fill="#0f0"/>
<rect x="852" y="639" width="3" height="27" fill="#0f0"/>
<rect x="868" y="643" width="3" height="23" fill="#0f0"/>
<rect x="884" y="646" width="3" height="20" fill="#0f0"/>
<rect x="900" y="648" width="3" height="18" fill="#0f0"/>
<rect x="916" y="650" width="3" height="16" fill="#0f0"/>
<rect x="932" y="654" width="3" height="12" fill="#0f0"/>
<rect x="948" y="660" width="3" height="6" fill="#0f0"/>
<rect x="964" y="646" width="3" height="20" fill="#0f0"/>
<rect x="980" y="638" width="3" height="28" fill="#0f0"/>
<rect x="996" y="632" width="3" height="34" fill="#0f0"/>
<rect x="1012" y="628" width="3" height="38" fill="#0f0"/>
<rect x="1028" y="621" width="3" height="45" fill="#0f0"/>
<rect x="1044" y="614" width="3" height="52" fill="#0f0"/>
<rect x="1060" y="624" width="3" height="42" fill="#0f0"/>
<rect x="1076" y="638" width="3" height="28" fill="#0f0"/>
<rect x="1092" y="652" width="3" height="14" fill="#0f0"/>
<rect x="1108" y="663" width="3" height="3" fill="#0f0"/>
<rect x="1124" y="666" width="3" height="9" fill="#0f0"/>
<rect x="1140" y="666" width="3" height="19" fill="#0f0"/>
<rect x="1156" y="666" width="3" height="37" fill="#0f0"/>
<rect x="1172" y="666" width="3" height="47" fill="#0f0"/>
<rect x="1188" y="666" width="3" height="53" fill="#0f0"/>
<rect x="1204" y="666" width="3" height="56" fill="#0f0"/>
<rect x="1220" y="666" width="3" height="58" fill="#0f0"/>
<rect x="1236" y="666" width="3" height="58" fill="#0f0"/>
<rect x="1252" y="666" width="3" height="56" fill="#0f0"/>
<rect x="1268" y="666" width="3" height="53" fill="#0f0"/>
<rect x="1284" y="666" width="3" height="51" fill="#0f0"/>
<polyline points="5,672 21,673.25 37,675.75 53,679 69,682 85,685.5 101,687.5 117,689.25 133,690.25 149,691.5 165,692 181,692 197,691.5 213,690.25 229,687.5 245,684.5 261,680.5 277,675.75 293,670.75 309,665.25 325,660 341,656.5 357,653.5 373,651.5 389,650.5 405,650.25 421,650.5 437,651.25 453,652.75 469,654.75 485,658 501,660.75 517,663 533,665 549,667 565,668.75 581,671.75 597,676 613,680.5 629,684.75 645,687.5 661,691.5 677,694.25 693,696.25 709,698.5 725,698.75 741,698.5 757,694.5 773,688.25 789,680.5 805,672.5 821,665 837,657 853,650.75 869,644.5 885,639.25 901,638 917,638 933,640.5 949,644.75 965,646.75 981,647 997,646.5 1013,645.5 1029,642 1045,638.25 1061,635.25 1077,633.25 1093,633 1109,634 1125,638 1141,644.5 1157,652.5 1173,664.25 1189,675 1205,686 1221,694.5 1237,702.5 1253,709.25 1269,713.25 1285,716.75" fill="none" stroke="#f00" stroke-width="2" shape-rendering="crispEdges" stroke-linejoin="round"/>
<text x="9" y="620" font-size="9.8" fill="#000" stroke="#000" stroke-width="0.3" textLength="154" lengthAdjust="spacingAndGlyphs">MACD(12,26,9) -0.002311 -0.002354</text>
<rect x="1642" y="609" width="1" height="1" fill="#000"/>
<text x="1645" y="618" font-size="9.8" fill="#000" stroke="#000" stroke-width="0.3" textLength="38" lengthAdjust="spacingAndGlyphs">0.002628</text>
<rect x="1642" y="666" width="1" height="1" fill="#000"/>
<text x="1645" y="670" font-size="9.8" fill="#000" stroke="#000" stroke-width="0.3" textLength="18" lengthAdjust="spacingAndGlyphs">0.00</text>
<rect x="1642" y="728" width="1" height="1" fill="#000"/>
<text x="1645" y="726" font-size="9.8" fill="#000" stroke="#000" stroke-width="0.3" textLength="41" lengthAdjust="spacingAndGlyphs">-0.002881</text>
<line x1="6" y1="753.5" x2="1641" y2="753.5" stroke="#000" stroke-width="1" stroke-dasharray="3 3"/>
<line x1="6" y1="784.5" x2="1641" y2="784.5" stroke="#000" stroke-width="1" stroke-dasharray="3 3"/>
<line x1="6" y1="821.5" x2="1641" y2="821.5" stroke="#000" stroke-width="1" stroke-dasharray="3 3"/>
<polyline points="5,796 21,794.5 37,794 53,790 69,793 85,793 101,793.5 117,793.75 133,792 149,799 165,798 181,788 197,777 213,775 229,774.75 245,774.75 261,778.5 277,778.5 293,771 309,771 325,777.5 341,779 357,780.5 373,789 389,788.75 405,786 421,785.25 437,782.75 453,786 469,791 485,789.25 501,788.75 517,791 533,792.75 549,792.75 565,798 581,804 597,808 613,800.75 629,800.5 645,792.75 661,799.25 677,791 693,791 709,791 725,793 741,784 757,762 773,765 789,772 805,772 821,778 837,784.5 853,786.75 869,784.25 885,784 901,784 917,784.5 933,786.5 949,789 965,771.75 981,773.75 997,773.75 1013,773.75 1029,771.25 1045,770 1061,787 1077,791.75 1093,792.75 1109,794 1125,795.75 1141,796.25 1157,803 1173,800.25 1189,797.5 1205,795.75 1221,795.75 1237,794 1253,792 1269,792 1285,793" fill="none" stroke="#1e90ff" stroke-width="2" shape-rendering="crispEdges" stroke-linejoin="round"/>
<text x="9" y="744" font-size="9.8" fill="#000" stroke="#000" stroke-width="0.3" textLength="68" lengthAdjust="spacingAndGlyphs">RSI(14) 42.1610</text>
<rect x="1642" y="733" width="1" height="1" fill="#000"/>
<rect x="1642" y="836" width="1" height="1" fill="#000"/>
<text x="1645" y="742" font-size="9.8" fill="#000" stroke="#000" stroke-width="0.3" textLength="15" lengthAdjust="spacingAndGlyphs">100</text>
<text x="1644" y="757" font-size="9.8" fill="#000" stroke="#000" stroke-width="0.3" textLength="10" lengthAdjust="spacingAndGlyphs">80</text>
<text x="1644" y="788" font-size="9.8" fill="#000" stroke="#000" stroke-width="0.3" textLength="10" lengthAdjust="spacingAndGlyphs">50</text>
<text x="1644" y="825" font-size="9.8" fill="#000" stroke="#000" stroke-width="0.3" textLength="10" lengthAdjust="spacingAndGlyphs">15</text>
<text x="1645" y="834" font-size="9.8" fill="#000" stroke="#000" stroke-width="0.3" textLength="5" lengthAdjust="spacingAndGlyphs">0</text>
<rect x="5" y="838" width="1" height="3" fill="#000"/>
<text x="4" y="850" font-size="9.8" fill="#000" stroke="#000" stroke-width="0.3" textLength="52" lengthAdjust="spacingAndGlyphs">20 Dec 2022</text>
<rect x="69" y="838" width="1" height="3" fill="#000"/>
<text x="68" y="850" font-size="9.8" fill="#000" stroke="#000" stroke-width="0.3" textLength="55" lengthAdjust="spacingAndGlyphs">21 Dec 04:00</text>
<rect x="133" y="838" width="1" height="3" fill="#000"/>
<text x="132" y="850" font-size="9.8" fill="#000" stroke="#000" stroke-width="0.3" textLength="55" lengthAdjust="spacingAndGlyphs">21 Dec 20:00</text>
<rect x="197" y="838" width="1" height="3" fill="#000"/>
<text x="196" y="850" font-size="9.8" fill="#000" stroke="#000" stroke-width="0.3" textLength="55" lengthAdjust="spacingAndGlyphs">22 Dec 12:00</text>
<rect x="261" y="838" width="1" height="3" fill="#000"/>
<text x="260" y="850" font-size="9.8" fill="#000" stroke="#000" stroke-width="0.3" textLength="55" lengthAdjust="spacingAndGlyphs">23 Dec 04:00</text>
<rect x="325" y="838" width="1" height="3" fill="#000"/>
<text x="324" y="850" font-size="9.8" fill="#000" stroke="#000" stroke-width="0.3" textLength="55" lengthAdjust="spacingAndGlyphs">26 Dec 23:00</text>
<rect x="389" y="838" width="1" height="3" fill="#000"/>
<text x="388" y="850" font-size="9.8" fill="#000" stroke="#000" stroke-width="0.3" textLength="55" lengthAdjust="spacingAndGlyphs">27 Dec 12:00</text>
<rect x="453" y="838" width="1" height="3" fill="#000"/>
<text x="452" y="850" font-size="9.8" fill="#000" stroke="#000" stroke-width="0.3" textLength="55" lengthAdjust="spacingAndGlyphs">28 Dec 04:00</text>
<rect x="517" y="838" width="1" height="3" fill="#000"/>
<text x="516" y="850" font-size="9.8" fill="#000" stroke="#000" stroke-width="0.3" textLength="55" lengthAdjust="spacingAndGlyphs">28 Dec 20:00</text>
<rect x="581" y="838" width="1" height="3" fill="#000"/>
<text x="580" y="850" font-size="9.8" fill="#000" stroke="#000" stroke-width="0.3" textLength="55" lengthAdjust="spacingAndGlyphs">29 Dec 12:00</text>
<rect x="645" y="838" width="1" height="3" fill="#000"/>
<text x="644" y="850" font-size="9.8" fill="#000" stroke="#000" stroke-width="0.3" textLength="55" lengthAdjust="spacingAndGlyphs">30 Dec 04:00</text>
<rect x="709" y="838" width="1" height="3" fill="#000"/>
<text x="708" y="850" font-size="9.8" fill="#000" stroke="#000" stroke-width="0.3" textLength="48" lengthAdjust="spacingAndGlyphs">2 Jan 23:00</text>
<rect x="773" y="838" width="1" height="3" fill="#000"/>
<text x="772" y="850" font-size="9.8" fill="#000" stroke="#000" stroke-width="0.3" textLength="48" lengthAdjust="spacingAndGlyphs">3 Jan 12:00</text>
<rect x="837" y="838" width="1" height="3" fill="#000"/>
<text x="836" y="850" font-size="9.8" fill="#000" stroke="#000" stroke-width="0.3" textLength="48" lengthAdjust="spacingAndGlyphs">4 Jan 04:00</text>
<rect x="901" y="838" width="1" height="3" fill="#000"/>
<text x="900" y="850" font-size="9.8" fill="#000" stroke="#000" stroke-width="0.3" textLength="48" lengthAdjust="spacingAndGlyphs">4 Jan 20:00</text>
<rect x="965" y="838" width="1" height="3" fill="#000"/>
<text x="964" y="850" font-size="9.8" fill="#000" stroke="#000" stroke-width="0.3" textLength="48" lengthAdjust="spacingAndGlyphs">5 Jan 12:00</text>
<rect x="1029" y="838" width="1" height="3" fill="#000"/>
<text x="1028" y="850" font-size="9.8" fill="#000" stroke="#000" stroke-width="0.3" textLength="48" lengthAdjust="spacingAndGlyphs">6 Jan 04:00</text>
<rect x="1093" y="838" width="1" height="3" fill="#000"/>
<text x="1092" y="850" font-size="9.8" fill="#000" stroke="#000" stroke-width="0.3" textLength="48" lengthAdjust="spacingAndGlyphs">8 Jan 23:00</text>
<rect x="1157" y="838" width="1" height="3" fill="#000"/>
<text x="1156" y="850" font-size="9.8" fill="#000" stroke="#000" stroke-width="0.3" textLength="48" lengthAdjust="spacingAndGlyphs">9 Jan 12:00</text>
<rect x="1221" y="838" width="1" height="3" fill="#000"/>
<text x="1220" y="850" font-size="9.8" fill="#000" stroke="#000" stroke-width="0.3" textLength="53" lengthAdjust="spacingAndGlyphs">10 Jan 04:00</text>
<rect x="1285" y="838" width="1" height="3" fill="#000"/>
<text x="1284" y="850" font-size="9.8" fill="#000" stroke="#000" stroke-width="0.3" textLength="53" lengthAdjust="spacingAndGlyphs">10 Jan 20:00</text>
</svg>
</body></html>
